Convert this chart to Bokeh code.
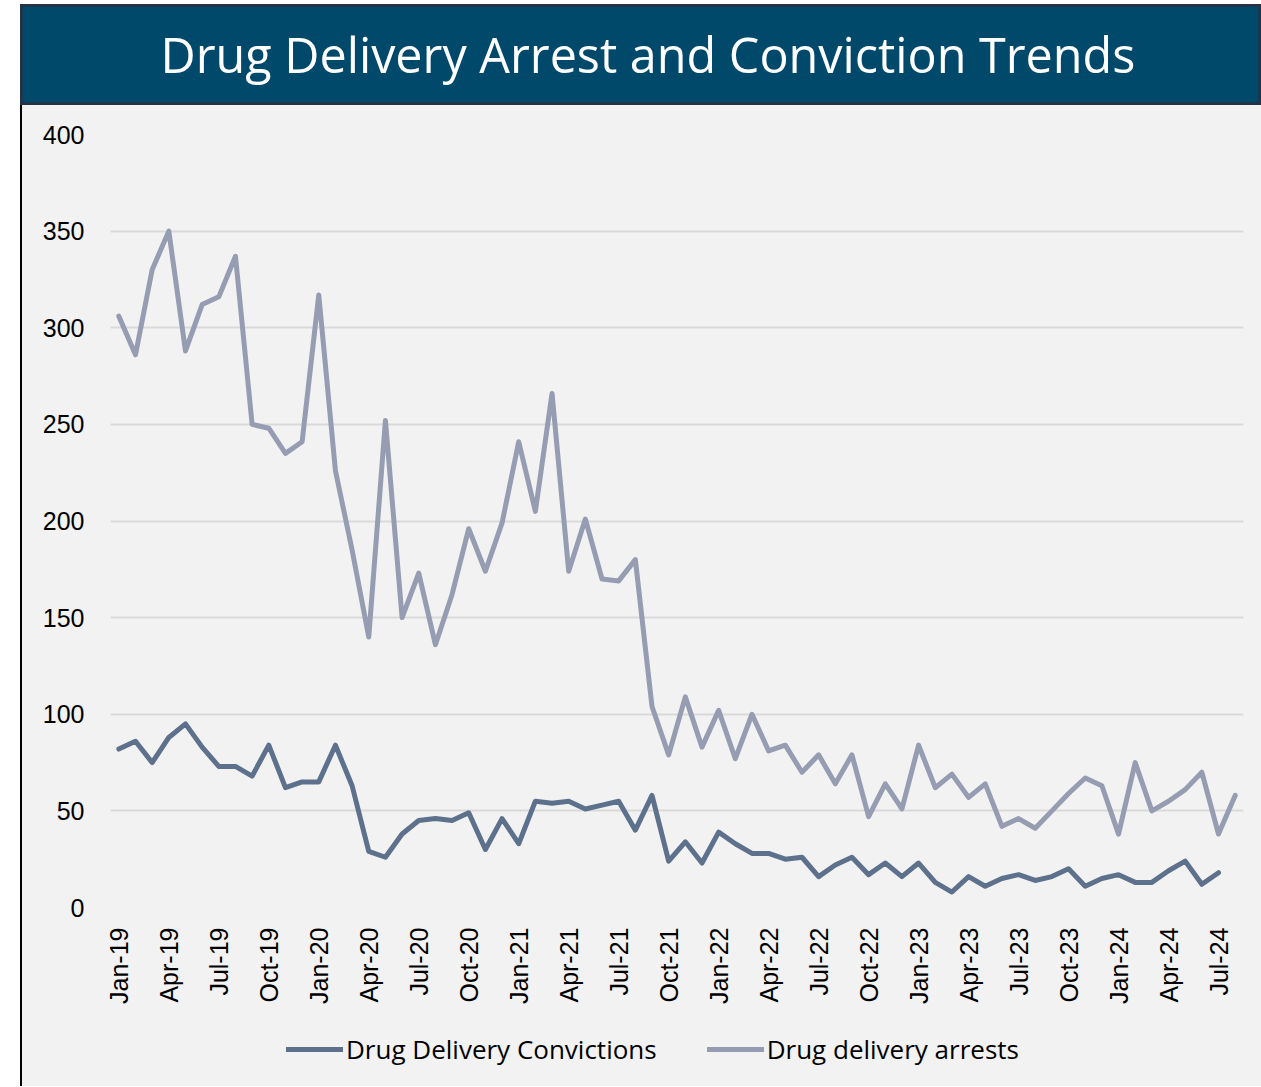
from bokeh.plotting import figure
from bokeh.models import Range1d, FixedTicker, Legend, LegendItem, Spacer, ColumnDataSource
from bokeh.layouts import column, row
from bokeh.core.properties import value
from bokeh.embed import file_html
from bokeh.resources import INLINE
import math

title_text = "Drug Delivery Arrest and Conviction Trends"

months = [
    "Jan-19", "Feb-19", "Mar-19", "Apr-19", "May-19", "Jun-19", "Jul-19", "Aug-19", "Sep-19", "Oct-19", "Nov-19", "Dec-19",
    "Jan-20", "Feb-20", "Mar-20", "Apr-20", "May-20", "Jun-20", "Jul-20", "Aug-20", "Sep-20", "Oct-20", "Nov-20", "Dec-20",
    "Jan-21", "Feb-21", "Mar-21", "Apr-21", "May-21", "Jun-21", "Jul-21", "Aug-21", "Sep-21", "Oct-21", "Nov-21", "Dec-21",
    "Jan-22", "Feb-22", "Mar-22", "Apr-22", "May-22", "Jun-22", "Jul-22", "Aug-22", "Sep-22", "Oct-22", "Nov-22", "Dec-22",
    "Jan-23", "Feb-23", "Mar-23", "Apr-23", "May-23", "Jun-23", "Jul-23", "Aug-23", "Sep-23", "Oct-23", "Nov-23", "Dec-23",
    "Jan-24", "Feb-24", "Mar-24", "Apr-24", "May-24", "Jun-24", "Jul-24", "Aug-24",
]

arrests = [
    306, 286, 330, 350, 288, 312, 316, 337, 250, 248, 235, 241,
    317, 226, 185, 140, 252, 150, 173, 136, 162, 196, 174, 199,
    241, 205, 266, 174, 201, 170, 169, 180, 104, 79, 109, 83,
    102, 77, 100, 81, 84, 70, 79, 64, 79, 47, 64, 51,
    84, 62, 69, 57, 64, 42, 46, 41, 50, 59, 67, 63,
    38, 75, 50, 55, 61, 70, 38, 58,
]

convictions = [
    82, 86, 75, 88, 95, 83, 73, 73, 68, 84, 62, 65,
    65, 84, 63, 29, 26, 38, 45, 46, 45, 49, 30, 46,
    33, 55, 54, 55, 51, 53, 55, 40, 58, 24, 34, 23,
    39, 33, 28, 28, 25, 26, 16, 22, 26, 17, 23, 16,
    23, 13, 8, 16, 11, 15, 17, 14, 16, 20, 11, 15,
    17, 13, 13, 19, 24, 12, 18,
]

y_ticks = [0, 50, 100, 150, 200, 250, 300, 350, 400]
series_names = ["Drug Delivery Convictions", "Drug delivery arrests"]

conv_color = "#5D708C"
arr_color = "#969CB2"
bg = "#F2F2F2"
title_bg = "#00496B"

src_a = ColumnDataSource(dict(x=list(range(len(arrests))), y=arrests))
src_c = ColumnDataSource(dict(x=list(range(len(convictions))), y=convictions))

# ---- title bar ----
tp = figure(width=1241, height=101, x_range=Range1d(0, 1), y_range=Range1d(0, 1),
            x_axis_type=None, y_axis_type=None, toolbar_location=None,
            output_backend="svg", min_border=0)
tp.background_fill_color = title_bg
tp.border_fill_color = title_bg
tp.outline_line_color = "#27313F"
tp.outline_line_width = 4
tp.grid.visible = False
tp.text(x=[0.5056], y=[0.51], text=[title_text], text_align="center", text_baseline="middle",
        text_color="white", text_font=value("Open Sans"), text_font_size="48.5px")

# ---- main chart ----
p = figure(width=1239, height=925, x_range=Range1d(-0.5, len(months) - 0.5), y_range=Range1d(0, 400),
           toolbar_location=None, output_backend="svg",
           min_border_left=88, min_border_right=18, min_border_top=29, min_border_bottom=123)
p.background_fill_color = bg
p.border_fill_color = bg
p.outline_line_color = None

line_kw = dict(line_width=5, line_join="round", line_cap="round")
p.line("x", "y", source=src_a, line_color=arr_color, **line_kw)
p.line("x", "y", source=src_c, line_color=conv_color, **line_kw)

tick_idx = list(range(0, len(months), 3))
p.xaxis.ticker = FixedTicker(ticks=tick_idx)
p.xaxis.major_label_overrides = {i: months[i] for i in tick_idx}
p.xaxis.major_label_orientation = math.pi / 2
p.yaxis.ticker = FixedTicker(ticks=y_ticks)

for ax in (p.xaxis, p.yaxis):
    ax.axis_line_color = None
    ax.major_tick_line_color = None
    ax.minor_tick_line_color = None
    ax.major_tick_out = 0
    ax.major_tick_in = 0
    ax.major_label_text_font = "Liberation Sans"
    ax.major_label_text_font_size = "25px"
    ax.major_label_text_color = "#000000"
p.yaxis.major_label_standoff = 26
p.xaxis.major_label_standoff = 20

p.xgrid.visible = False
p.ygrid.grid_line_color = "#D9D9D9"
p.ygrid.grid_line_width = 2

# ---- legend strip (same series, plotted outside its visible y-range; only the legend shows) ----
lg = figure(width=1239, height=56, x_range=Range1d(-0.5, len(months) - 0.5), y_range=Range1d(1000, 1001),
            x_axis_type=None, y_axis_type=None, toolbar_location=None,
            output_backend="svg", min_border=0)
lg.background_fill_color = bg
lg.border_fill_color = bg
lg.outline_line_color = None
lg.grid.visible = False
lr_a = lg.line("x", "y", source=src_a, line_color=arr_color, **line_kw)
lr_c = lg.line("x", "y", source=src_c, line_color=conv_color, **line_kw)

legend = Legend(items=[LegendItem(label=series_names[0], renderers=[lr_c]),
                       LegendItem(label=series_names[1], renderers=[lr_a])],
                orientation="horizontal", location=(176, 19))
legend.background_fill_alpha = 0
legend.border_line_color = None
legend.padding = 0
legend.margin = 0
legend.spacing = 50
legend.glyph_width = 57
legend.glyph_height = 24
legend.label_standoff = 3
legend.label_text_font = "Open Sans"
legend.label_text_font_size = "26px"
legend.label_text_color = "#000000"
lg.add_layout(legend, "center")

strip = Spacer(width=2, height=981, styles={"background-color": "#000000"})

inner = column(p, lg, spacing=0, styles={"background-color": bg})
layout = column(tp, row(strip, inner, spacing=0), spacing=0, margin=(4, 0, 0, 20))

open("out.html", "w").write(file_html(layout, INLINE))
